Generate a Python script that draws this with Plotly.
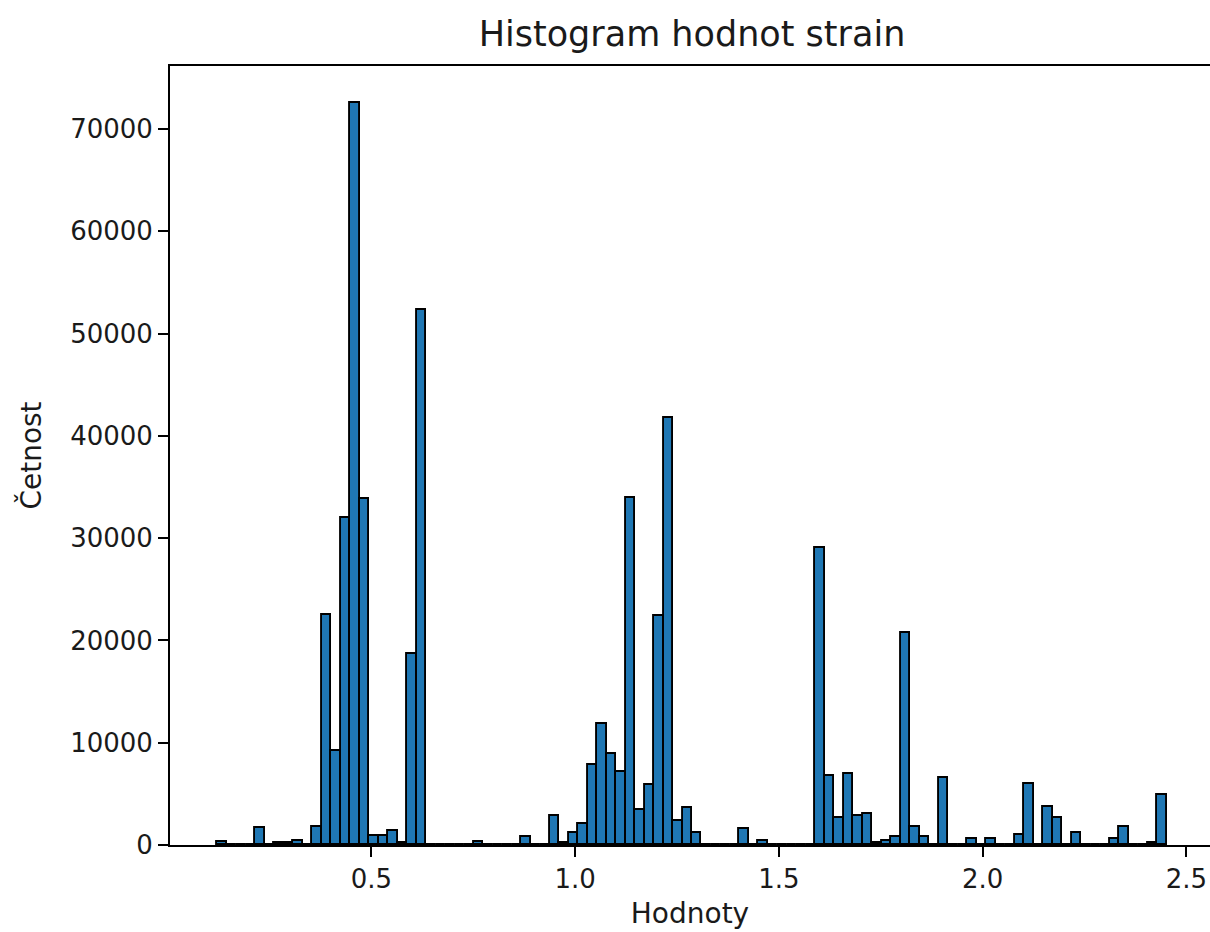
import numpy as np
import plotly.graph_objects as go

# Histogram of strain values: 100 equal bins between the min and max value
value_min = 0.122
value_max = 2.451
n_bins = 100

counts = [
    260, 0, 0, 0, 1625, 0, 195, 195, 390, 0,
    1790, 22520, 9165, 31940, 72540, 33850, 845, 845, 1365, 195,
    18690, 52300, 0, 0, 0, 0, 0, 260, 0, 0,
    0, 0, 750, 0, 0, 2830, 160, 1200, 2015, 7800,
    11830, 8940, 7120, 33960, 3410, 5915, 22360, 41790, 2370, 3575,
    1200, 0, 0, 0, 0, 1560, 0, 390, 0, 0,
    0, 0, 0, 29080, 6760, 2600, 6955, 2830, 3055, 195,
    390, 780, 20700, 1790, 750, 0, 6530, 0, 0, 585,
    0, 585, 0, 0, 975, 5950, 0, 3670, 2600, 0,
    1200, 0, 0, 0, 585, 1790, 0, 0, 160, 4900,
]

x_ticks = [0.5, 1.0, 1.5, 2.0, 2.5]
y_ticks = [0, 10000, 20000, 30000, 40000, 50000, 60000, 70000]

edges = np.linspace(value_min, value_max, n_bins + 1)
centers = (edges[:-1] + edges[1:]) / 2
bin_width = edges[1] - edges[0]

FONT = "DejaVu Sans, sans-serif"
TEXT = "#1a1a1a"

fig = go.Figure(
    go.Bar(
        x=centers,
        y=counts,
        width=bin_width,
        marker=dict(color="#1f77b4", line=dict(color="black", width=1.9)),
        hoverinfo="x+y",
    )
)

span = value_max - value_min
x_lo = value_min - 0.05 * span
fig.update_layout(
    width=1210,
    height=932,
    margin=dict(l=170, r=0, t=66, b=87),
    plot_bgcolor="white",
    paper_bgcolor="white",
    showlegend=False,
    bargap=0,
    font=dict(family=FONT, size=27, color=TEXT),
    title=dict(
        text="Histogram hodnot strain",
        x=692 / 1210,
        xanchor="center",
        y=1 - 34 / 932,
        yanchor="middle",
        font=dict(family=FONT, size=35, color=TEXT),
    ),
    xaxis=dict(
        range=[x_lo, x_lo + 1040 / 407.5],
        tickvals=x_ticks,
        ticktext=[f"{v:.1f}" for v in x_ticks],
        ticks="outside",
        ticklen=10,
        tickwidth=1.6,
        tickcolor="black",
        showline=True,
        linecolor="black",
        linewidth=1.8,
        mirror=True,
        showgrid=False,
        zeroline=False,
        title=dict(text="Hodnoty", standoff=10, font=dict(family=FONT, size=28)),
        tickfont=dict(family=FONT, size=26),
    ),
    yaxis=dict(
        range=[0, max(counts) * 1.05],
        tickvals=y_ticks,
        ticktext=[str(v) for v in y_ticks],
        ticks="outside",
        ticklen=10,
        tickwidth=1.6,
        tickcolor="black",
        showline=True,
        linecolor="black",
        linewidth=1.8,
        mirror=False,
        showgrid=False,
        zeroline=False,
        title=dict(text="Četnost", standoff=20, font=dict(family=FONT, size=28)),
        tickfont=dict(family=FONT, size=26),
    ),
)

fig.write_html("out.html")
